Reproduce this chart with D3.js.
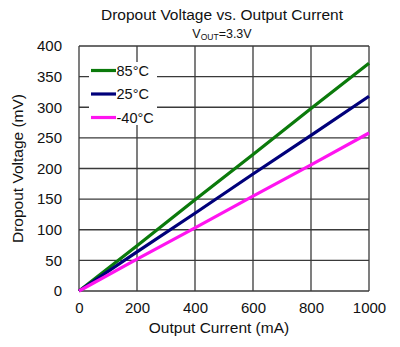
<!DOCTYPE html>
<html><head><meta charset="utf-8">
<script src="https://cdn.jsdelivr.net/npm/d3@7"></script>
<style>body{margin:0;background:#fff}svg{display:block;font-family:"Liberation Sans",Arial,sans-serif}</style>
</head><body>
<script>
const currents = [0, 200, 400, 600, 800, 1000];
const v85 = [0, 74, 149, 223, 298, 372];
const v25 = [0, 64, 127, 191, 254, 318];
const vm40 = [0, 52, 103, 155, 206, 258];
const seriesNames = ["85°C", "25°C", "-40°C"];
const seriesColors = ["#0b7a0b", "#00007a", "#ff14f0"];
const xTicks = [0, 200, 400, 600, 800, 1000];
const yTicks = [0, 50, 100, 150, 200, 250, 300, 350, 400];

const W = 400, H = 347;
const m = {l: 79, r: 31, t: 46, b: 56};
const svg = d3.select("body").append("svg").attr("width", W).attr("height", H);
const x = d3.scaleLinear().domain([0, 1000]).range([m.l, W - m.r]);
const y = d3.scaleLinear().domain([0, 400]).range([H - m.b, m.t]);

// grid
const g = svg.append("g");
g.selectAll(".vx").data(xTicks).join("line")
  .attr("x1", d => x(d)).attr("x2", d => x(d)).attr("y1", y(0)).attr("y2", y(400))
  .attr("stroke", "#3a3a3a").attr("stroke-width", 1.3);
g.selectAll(".hy").data(yTicks).join("line")
  .attr("y1", d => y(d)).attr("y2", d => y(d)).attr("x1", x(0)).attr("x2", x(1000))
  .attr("stroke", "#3a3a3a").attr("stroke-width", 1.3);

// legend background
svg.append("rect").attr("x", 89).attr("y", 62).attr("width", 68).attr("height", 63).attr("fill", "#fff");

// axes labels via d3 axes
const xa = svg.append("g").attr("transform", `translate(0,${y(0)})`)
  .call(d3.axisBottom(x).tickValues(xTicks).tickFormat(d3.format("d")).tickSize(0).tickPadding(11));
const ya = svg.append("g").attr("transform", `translate(${x(0)},0)`)
  .call(d3.axisLeft(y).tickValues(yTicks).tickFormat(d3.format("d")).tickSize(0).tickPadding(17));
[xa, ya].forEach(a => {
  a.select(".domain").remove();
  a.selectAll("text").attr("font-size", 15).attr("fill", "#111").attr("font-family", "Liberation Sans, Arial, sans-serif");
});

// lines
const allSeries = [v85, v25, vm40];
const line = d3.line().x((d, i) => x(currents[i])).y(d => y(d));
svg.selectAll(".ser").data(allSeries).join("path")
  .attr("d", d => line(d)).attr("fill", "none")
  .attr("stroke", (d, i) => seriesColors[i]).attr("stroke-width", 3.2);

// legend
const lg = svg.append("g");
seriesNames.forEach((n, i) => {
  const ly = 70.5 + i * 23.5;
  lg.append("line").attr("x1", 91).attr("x2", 116).attr("y1", ly).attr("y2", ly)
    .attr("stroke", seriesColors[i]).attr("stroke-width", 3.2);
  lg.append("text").attr("x", 116.5).attr("y", ly + 5).attr("font-size", 14.5).attr("fill", "#111").text(n);
});

// titles
svg.append("text").attr("x", 222).attr("y", 20).attr("text-anchor", "middle")
  .attr("font-size", 15.5).attr("fill", "#111").text("Dropout Voltage vs. Output Current");
const st = svg.append("text").attr("x", 222).attr("y", 38).attr("text-anchor", "middle")
  .attr("font-size", 12.5).attr("fill", "#111");
st.append("tspan").text("V");
st.append("tspan").attr("font-size", 8.5).attr("dy", 2).text("OUT");
st.append("tspan").attr("dy", -2).text("=3.3V");

svg.append("text").attr("x", 219).attr("y", 333).attr("text-anchor", "middle")
  .attr("font-size", 15.5).attr("fill", "#111").text("Output Current (mA)");
svg.append("text").attr("transform", `translate(23,${(y(0)+y(400))/2}) rotate(-90)`)
  .attr("text-anchor", "middle").attr("font-size", 15.5).attr("fill", "#111").text("Dropout Voltage (mV)");
</script>
</body></html>
